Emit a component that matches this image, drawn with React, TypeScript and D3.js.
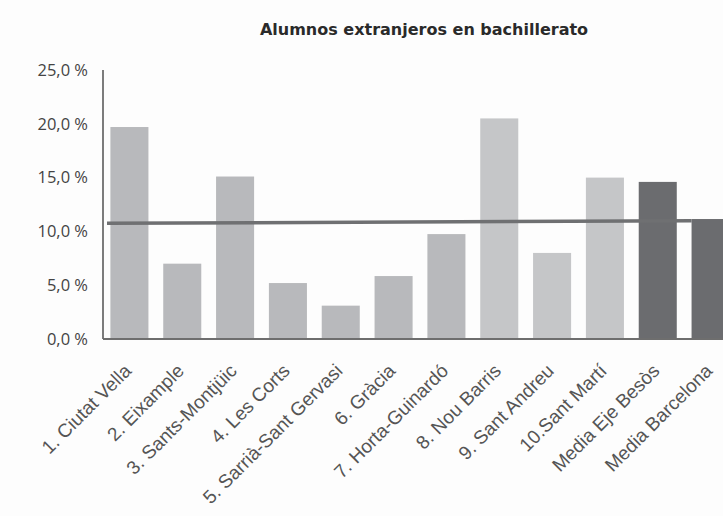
import * as d3 from "d3";
import React from "react";

const categories = [
  "1. Ciutat Vella",
  "2. Eixample",
  "3. Sants-Montjüic",
  "4. Les Corts",
  "5. Sarrià-Sant Gervasi",
  "6. Gràcia",
  "7. Horta-Guinardó",
  "8. Nou Barris",
  "9. Sant Andreu",
  "10.Sant Martí",
  "Media Eje Besòs",
  "Media Barcelona",
];
const values = [19.7, 7.0, 15.1, 5.2, 3.1, 5.85, 9.75, 20.5, 8.0, 15.0, 14.6, 11.15];
const groups = ["a", "a", "a", "a", "a", "a", "a", "b", "b", "b", "c", "c"];
const yTicks = [0, 5, 10, 15, 20, 25];
// reference line, value at its left end and at its right end
const avgLine = [10.75, 11.0];

const W = 723;
const H = 516;

const colors: Record<string, string> = { a: "#b8b9bc", b: "#c5c6c8", c: "#6b6c6f" };

export default function App() {
  const ref = React.useRef<SVGSVGElement | null>(null);

  React.useEffect(() => {
    const svg = d3.select(ref.current);
    svg.selectAll("*").remove();

    const x = d3.scaleBand<string>().domain(categories).range([103, 737]).paddingInner(0.28).paddingOuter(0.14);
    const y = d3.scaleLinear().domain([0, 25]).range([339, 70]);

    svg.append("rect").attr("width", W).attr("height", H).attr("fill", "#fdfdfd");

    svg
      .append("text")
      .attr("x", 424)
      .attr("y", 35)
      .attr("text-anchor", "middle")
      .attr("font-family", "DejaVu Sans, sans-serif")
      .attr("font-weight", "bold")
      .attr("font-size", 16)
      .attr("fill", "#2a2a2a")
      .text("Alumnos extranjeros en bachillerato");

    // y axis labels
    const yAxis = d3
      .axisLeft(y)
      .tickValues(yTicks)
      .tickSize(0)
      .tickPadding(15)
      .tickFormat((v) => `${d3.format(".1f")(v as number).replace(".", ",")} %`);
    const yg = svg.append("g").attr("transform", "translate(103,0)").call(yAxis);
    yg.select(".domain").remove();
    yg.selectAll("text")
      .attr("font-family", "Open Sans, Noto Sans, sans-serif")
      .attr("font-size", 16.5)
      .attr("fill", "#444");

    // bars
    svg
      .selectAll(".bar")
      .data(values)
      .join("rect")
      .attr("x", (_, i) => x(categories[i])!)
      .attr("y", (d) => y(d))
      .attr("width", x.bandwidth())
      .attr("height", (d) => y(0) - y(d))
      .attr("fill", (_, i) => colors[groups[i]]);

    // axis lines
    svg
      .append("line")
      .attr("x1", 103)
      .attr("x2", W)
      .attr("y1", y(0))
      .attr("y2", y(0))
      .attr("stroke", "#6e6e6e")
      .attr("stroke-width", 1.8);
    svg
      .append("line")
      .attr("x1", 103)
      .attr("x2", 103)
      .attr("y1", y(25))
      .attr("y2", y(0))
      .attr("stroke", "#6e6e6e")
      .attr("stroke-width", 1.8);

    // average line
    const lx = [x.range()[0] + 4, x(categories[categories.length - 1])!];
    const line = d3
      .line<number>()
      .x((_, i) => lx[i])
      .y((d) => y(d));
    svg
      .append("path")
      .attr("d", line(avgLine))
      .attr("fill", "none")
      .attr("stroke", "#6f7072")
      .attr("stroke-width", 3.5);

    // x labels
    svg
      .selectAll(".xl")
      .data(categories)
      .join("text")
      .attr("transform", (d) => `translate(${x(d)! + x.bandwidth() / 2 + 3},372) rotate(-45)`)
      .attr("text-anchor", "end")
      .attr("font-family", "Liberation Sans, Arial, sans-serif")
      .attr("font-size", 19)
      .attr("fill", "#555")
      .text((d) => d);
  }, []);

  return (
    <svg
      ref={ref}
      width={W}
      height={H}
      style={{ position: "absolute", left: 0, top: 0, overflow: "hidden" }}
    />
  );
}
